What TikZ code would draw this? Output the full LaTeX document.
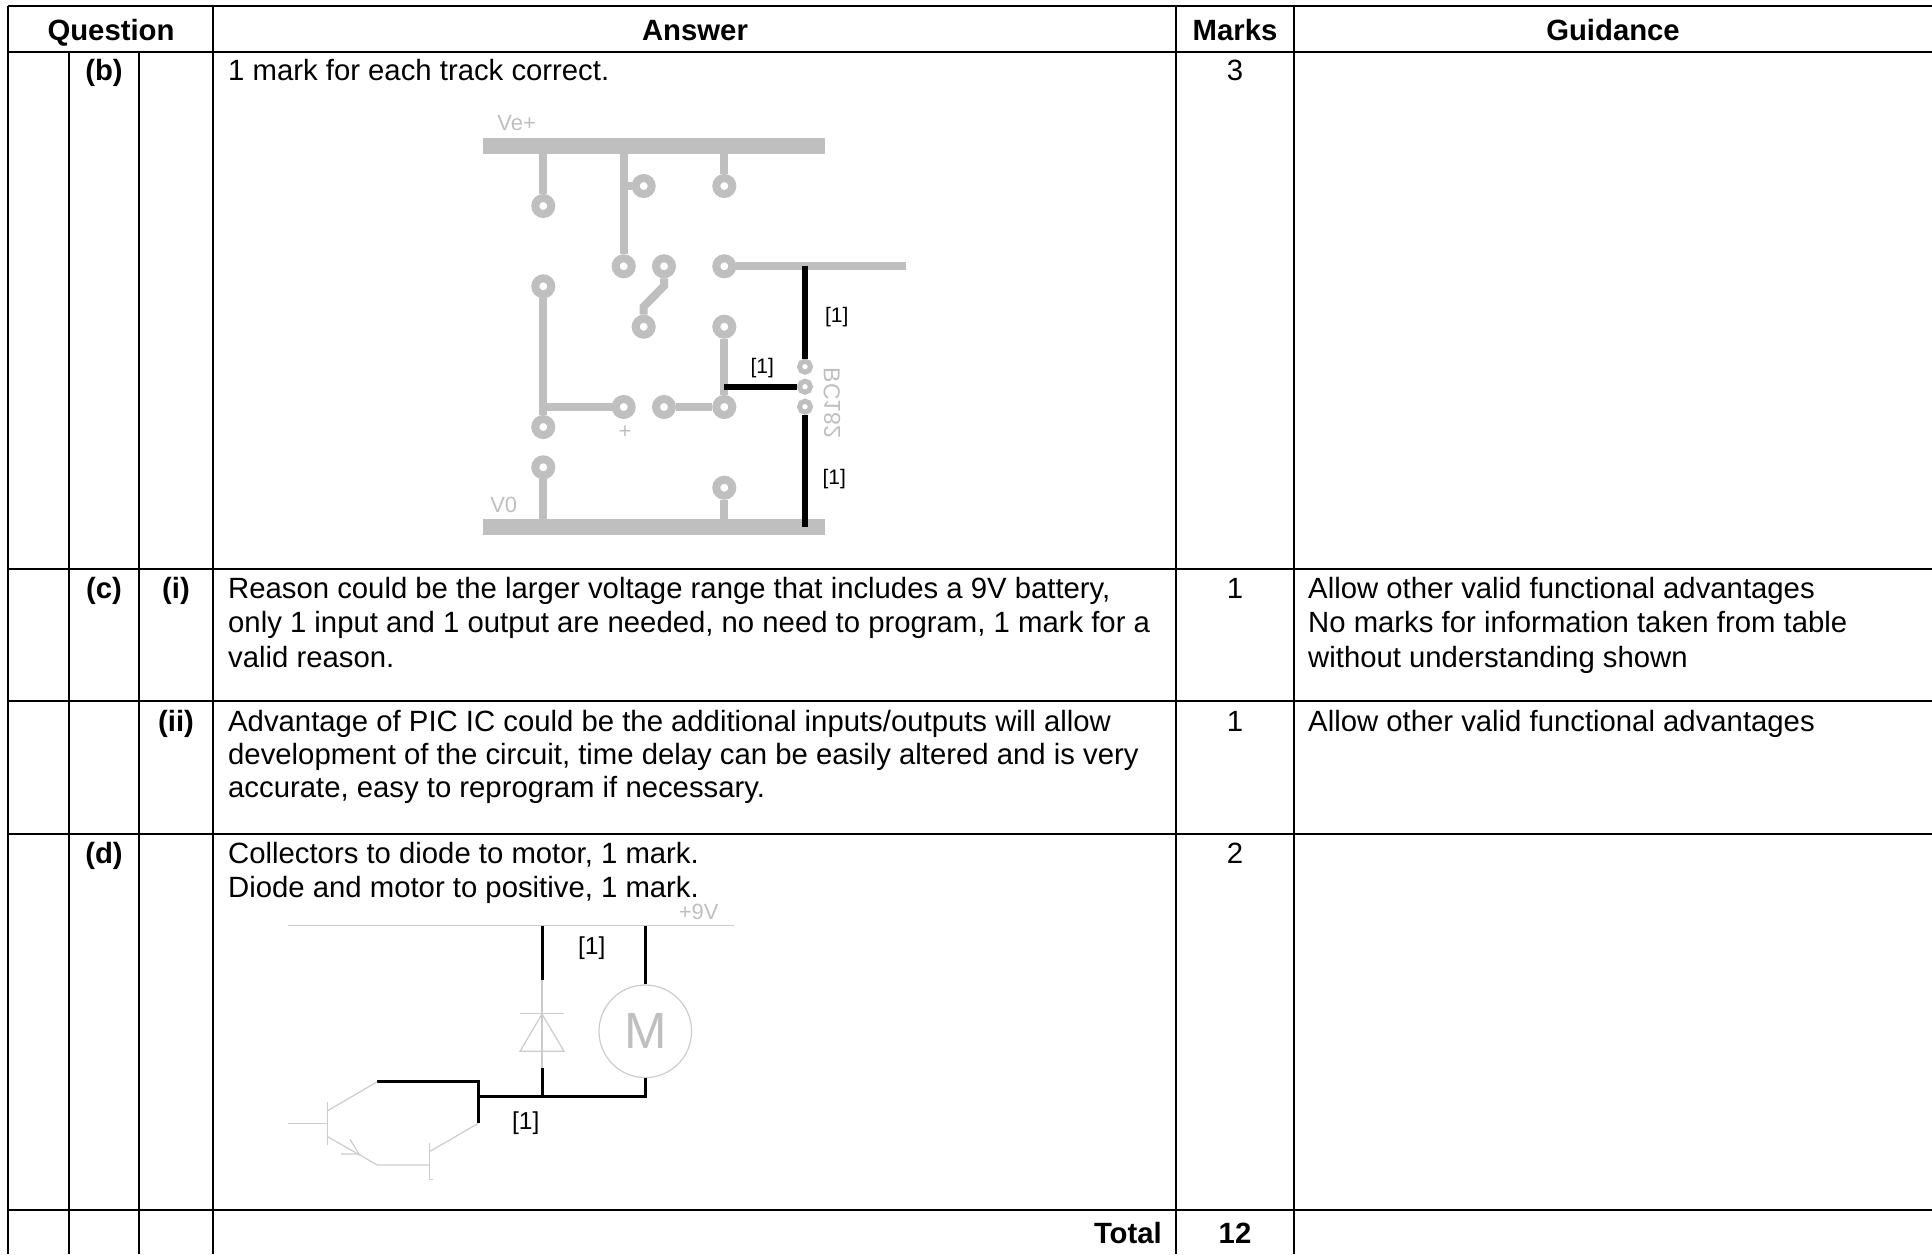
\documentclass[tikz,border=0pt]{standalone}
\usepackage{fontspec}
\setmainfont{Liberation Sans}
\colorlet{track}{black!25}
\colorlet{wire}{black!20}
\tikzset{
  ruled/.style={line width=2pt},
  body/.style={anchor=base west, inner sep=0pt, align=left, font=\fontsize{29.3}{34.5}\selectfont},
  mid/.style={anchor=base, inner sep=0pt, font=\fontsize{29.3}{34.5}\selectfont},
  head/.style={mid, font=\fontsize{29.3}{34.5}\selectfont\bfseries},
  pad/.style={circle, draw=track, fill=white, line width=8pt, minimum size=16pt, inner sep=0pt},
  tinypad/.style={pad, line width=5pt, minimum size=11pt},
  bar/.style={fill=track, inner sep=0pt},
  trk/.style={draw=track, line width=8pt},
  answer/.style={draw=black, line width=6pt},
  lead/.style={draw=black, line width=3pt},
  wiring/.style={draw=wire, line width=1.2pt},
  faint/.style={inner sep=0pt, text=track, font=\fontsize{22}{22}\selectfont},
  tick/.style={inner sep=0pt, font=\fontsize{21}{21}\selectfont},
  bigtick/.style={tick, font=\fontsize{24.5}{24.5}\selectfont}
}
\begin{document}
\begin{tikzpicture}[x=1pt, y=-1pt]
\useasboundingbox (0,0) rectangle (1932,1254);

% table rules
\foreach \y in {6,52,569,701,834,1210}
  \draw[ruled] (8,\y) -- (1932,\y);
\foreach \x/\t in {8/6,69/52,139/52,213/6,1176/6,1294/6}
  \draw[ruled] (\x,\t) -- (\x,1254);

% header
\node[head] (hq) at (111,40) {Question};
\node[head] (ha) at (695,40) {Answer};
\node[head] (hm) at (1235,40) {Marks};
\node[head] (hg) at (1613,40) {Guidance};

% rows, a block of lines sits on its last line
\node[head] (qb) at (104,80) {(b)};
\node[body] (ab) at (228,80) {1 mark for each track correct.};
\node[mid] (mb) at (1235,80) {3};
\node[head] (qc) at (104,598) {(c)};
\node[head] (qci) at (176,598) {(i)};
\node[body] (ac) at (228,667) {Reason could be the larger voltage range that includes a 9V battery,\\only 1 input and 1 output are needed, no need to program, 1 mark for a\\valid reason.};
\node[mid] (mc) at (1235,598) {1};
\node[body] (gc) at (1308,667) {Allow other valid functional advantages\\No marks for information taken from table\\without understanding shown};
\node[head] (qcii) at (176,731) {(ii)};
\node[body] (acii) at (228,797.6) {Advantage of PIC IC could be the additional inputs/outputs will allow\\[-1.2pt]development of the circuit, time delay can be easily altered and is very\\[-1.2pt]accurate, easy to reprogram if necessary.};
\node[mid] (mcii) at (1235,731) {1};
\node[body] (gcii) at (1308,731) {Allow other valid functional advantages};
\node[head] (qd) at (104,863) {(d)};
\node[body] (ad) at (228,897.5) {Collectors to diode to motor, 1 mark.\\Diode and motor to positive, 1 mark.};
\node[mid] (md) at (1235,863) {2};
\node[head, anchor=base east] (tot) at (1162,1243) {Total};
\node[head] (mt) at (1235,1243) {12};

% board
\node[bar, minimum width=342pt, minimum height=16pt] (top) at (654,146) {};
\node[bar, minimum width=342pt, minimum height=16pt] (bot) at (654,527) {};
\coordinate (out) at (906,266.3);
\coordinate (bend1) at (664,286);
\coordinate (bend2) at (643.7,306.5);

\node[pad] (p1) at (543.3,206) {};
\node[pad] (p2) at (643.7,186) {};
\node[pad] (p3) at (724.3,186) {};
\node[pad] (p4) at (623.7,266.3) {};
\node[pad] (p5) at (664,266.3) {};
\node[pad] (p6) at (724.3,266.3) {};
\node[pad] (p7) at (543.3,286.3) {};
\node[pad] (p8) at (643.7,326.7) {};
\node[pad] (p9) at (724.3,326.7) {};
\node[pad] (p10) at (623.7,407) {};
\node[pad] (p11) at (664,407) {};
\node[pad] (p12) at (724.3,407) {};
\node[pad] (p13) at (543.3,427) {};
\node[pad] (p14) at (543.3,467.3) {};
\node[pad] (p15) at (724.3,487.7) {};
\node[tinypad] (c) at (805,366.7) {};
\node[tinypad] (b) at (805,386.7) {};
\node[tinypad] (e) at (805,406.7) {};

\draw[trk] (p1.north) -- (p1 |- top.south);
\draw[trk] (p4.north) -- (p4 |- top.south);
\draw[trk] (p4 |- p2) -- (p2.west);
\draw[trk] (p3.north) -- (p3 |- top.south);
\draw[trk] (p6.east) -- (out);
\draw[trk] (p5.south) -- (bend1) -- (bend2) -- (p8.north);
\draw[trk] (p7.south) -- (p13.north);
\draw[trk] (p7 |- p10) -- (p10.west);
\draw[trk] (p11.east) -- (p12.west);
\draw[trk] (p9.south) -- (p12.north);
\draw[trk] (p14.south) -- (p14 |- bot.north);
\draw[trk] (p15.south) -- (p15 |- bot.north);

\draw[answer] (c |- out) -- (c.north);
\draw[answer] (p9 |- b) -- (b.west);
\draw[answer] (e.south) -- (e |- bot.center);

\node[tick] (l1) at (836.7,317) {[1]};
\node[tick] (l2) at (762.3,367.7) {[1]};
\node[tick] (l3) at (834.3,478.7) {[1]};
\node[faint] (vp) at (516.7,122.7) {Ve+};
\node[faint] (v0) at (503.7,505) {V0};
\node[faint] (plus) at (625,432) {+};
\node[faint, rotate=-90, font=\fontsize{23}{23}\selectfont] (bc) at (832,403) {BC\raisebox{\depth}{\scalebox{1}[-1]{182}}};

% circuit
\coordinate (rl) at (288,925.7);
\coordinate (rr) at (734,925.7);
\draw[wiring] (rl) -- (rr);
\node[faint] (nine) at (698.7,912) {+9V};
\node[circle, wiring, minimum size=92.6pt, inner sep=0pt, text=track, font=\fontsize{51}{51}\selectfont] (mot) at (645.3,1031.3) {\raisebox{-2pt}{M}};

\coordinate (da) at (542,1014);
\coordinate (dl) at (520,1051.3);
\coordinate (dr) at (564,1051.3);
\coordinate (dt) at (542,980);
\coordinate (db) at (542,1068);
\coordinate (jn) at (542,1096);
\coordinate (jm) at (645.3,1096);
\coordinate (jt) at (478.3,1096);
\coordinate (cc) at (478.3,1081.7);
\coordinate (cd) at (478.3,1123.3);
\coordinate (c1) at (377.3,1081.7);
\draw[wiring] (dt) -- (db);
\draw[wiring] (520,1013.3) -- (564,1013.3);
\draw[wiring] (da) -- (dl) -- (dr) -- cycle;
\draw[lead] (dt) -- (dt |- rl);
\draw[lead] (db) -- (jn);
\draw[lead] (mot.north) -- (mot.north |- rl);
\draw[lead] (mot.south) -- (jm) -- (jt);
\draw[lead] (c1) -- (cc) -- (cd);

% transistors
\coordinate (q1t) at (327.7,1101.7);
\coordinate (q1b) at (327.7,1145);
\coordinate (q1m) at (327.7,1123.3);
\coordinate (q1c) at (327.7,1110.7);
\coordinate (q1e) at (327.7,1136.7);
\coordinate (em) at (377.3,1165);
\coordinate (q2t) at (429.3,1143.3);
\coordinate (q2b) at (429.3,1179.3);
\coordinate (q2c) at (429.3,1151.7);
\coordinate (q2e) at (429.3,1165);
\draw[wiring] (288.3,1123.3) -- (q1m);
\draw[wiring] (q1t) -- (q1b);
\draw[wiring] (q1c) -- (c1);
\draw[wiring] (q1e) -- (em) -- (q2e);
\draw[wiring] (350,1139.3) -- (359,1154) -- (341,1154);
\draw[wiring] (q2t) -- (q2b) -- ++(4,0);
\draw[wiring] (q2c) -- (cd);

\node[bigtick] (l4) at (591.7,948) {[1]};
\node[bigtick] (l5) at (525.7,1123) {[1]};
\end{tikzpicture}
\end{document}
